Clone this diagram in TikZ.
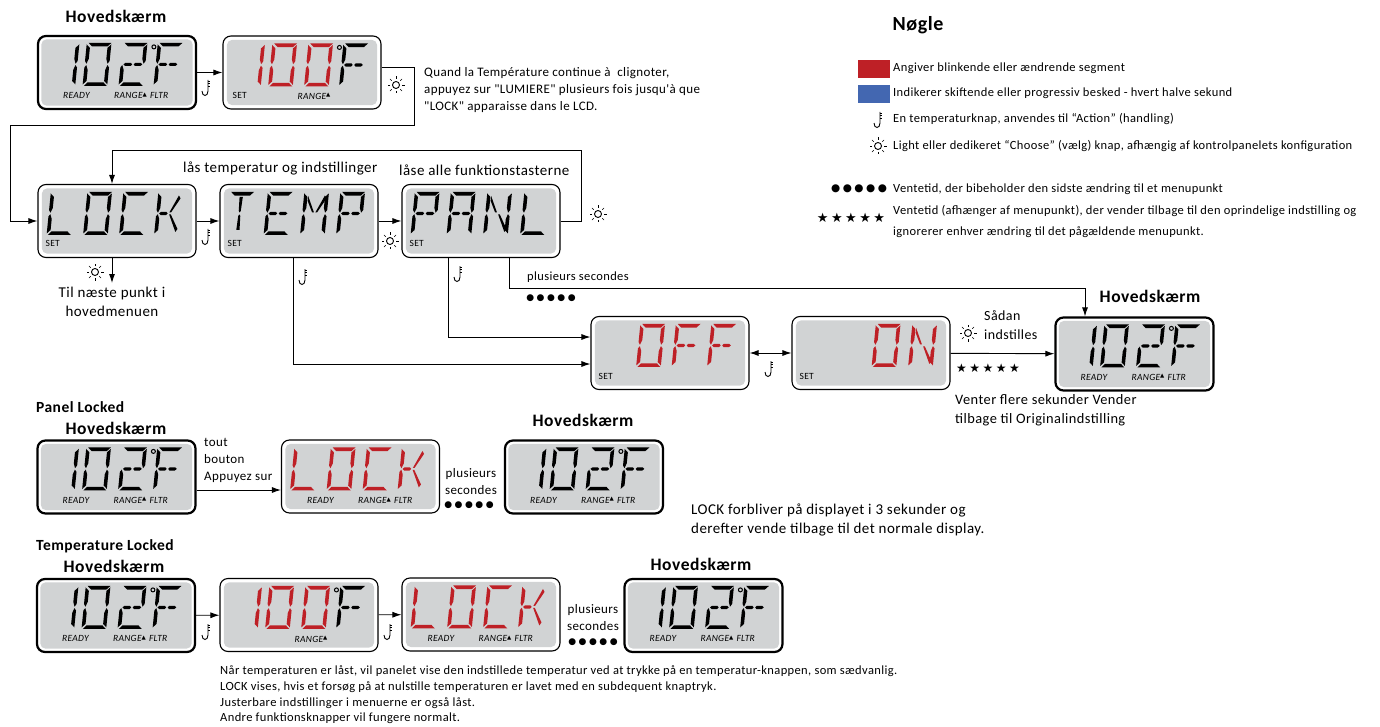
\documentclass[tikz,border=0pt]{standalone}
\usepackage{fontspec}
\setmainfont[LetterSpace=3,Ligatures=TeXOff]{Carlito}
\newfontfamily\symfont{DejaVu Sans}
\usetikzlibrary{arrows.meta}
\definecolor{lcdgray}{RGB}{209,211,212}
\definecolor{lcdred}{RGB}{190,32,38}
\definecolor{keyblue}{RGB}{67,103,177}

% LCD segments, one glyph cell is 27 wide and 43 high
\def\sega{\fill (3,0) -- (27.5,0) -- (23.5,3.6) -- (7,3.6) -- cycle;}
\def\segb{\fill (27.5,1.5) -- (27.5,18) -- (25.5,20.8) -- (23.7,16) -- (23.7,5) -- cycle;}
\def\segc{\fill (27.5,24.5) -- (27.5,41.5) -- (23.7,38) -- (23.7,27) -- (25.5,22.2) -- cycle;}
\def\segd{\fill (2.5,43) -- (27,43) -- (23,39.4) -- (6,39.4) -- cycle;}
\def\sege{\fill (1,24.5) -- (2.8,22.2) -- (4.8,27) -- (4.8,38) -- (1,41.5) -- cycle;}
\def\segf{\fill (1,1.5) -- (4.8,5) -- (4.8,16) -- (2.8,20.8) -- (1,18) -- cycle;}
\def\segg{\fill (4,21.5) -- (6,19.9) -- (11.8,19.9) -- (13.3,21.5) -- (11.8,23.1) -- (6,23.1) -- cycle;}
\def\segh{\fill (15,21.5) -- (16.5,19.9) -- (22.3,19.9) -- (24.3,21.5) -- (22.3,23.1) -- (16.5,23.1) -- cycle;}
\def\segi{\fill (12.5,5) -- (16,5) -- (15.3,19) -- (14.2,20.5) -- (13.1,19) -- cycle;}
\def\segj{\fill (14.2,22.5) -- (15.3,24) -- (16,38) -- (12.5,38) -- (13.1,24) -- cycle;}
\def\segk{\fill (23.5,3.5) -- (25.5,6.5) -- (16.8,20.5) -- (15,20.5) -- cycle;}
\def\segl{\fill (15,22.5) -- (16.8,22.5) -- (25.5,37) -- (23.5,40) -- cycle;}
\def\segm{\fill (5.5,4) -- (13.5,20.5) -- (11.5,20.5) -- (5.5,9) -- cycle;}

\def\chzero{a,b,c,d,e,f}
\def\chone{b,c}
\def\chtwo{a,b,g,h,e,d}
\def\chF{a,f,e,g,h}
\def\chL{f,e,d}
\def\chC{a,f,e,d}
\def\chK{f,e,g,k,l}
\def\chT{a,i,j}
\def\chE{a,f,e,d,g,h}
\def\chM{f,e,b,c,m,k}
\def\chP{a,f,e,b,g,h}
\def\chA{a,f,e,b,c,g,h}
\def\chN{f,e,b,c,m,l}

\newcommand\lcdface[1]{\fill[lcdgray,rounded corners=5pt] ([shift={(4.5,4.5)}]#1.north west) rectangle ([shift={(-4.5,-4.5)}]#1.south east);}
\newcommand\lcdchar[4]{\begin{scope}[shift={(#1.north west)},shift={(#2,8)},xslant=0.1,xscale=0.93,fill=#3]
  \edef\seglist{#4}\foreach \s in \seglist {\csname seg\s\endcsname}
  \end{scope}}
\newcommand\lcdtag[3]{\node[lcdtag] (#1-#2) at ([shift={(#2,61)}]#1.north west) {#3};}
\newcommand\lcdsettag[2]{\node[lcdtag, font=\fontsize{9.5}{10}\selectfont] (#1-set) at ([shift={(#2,60)}]#1.north west) {SET};}
\newcommand\rangemark{RANGE\raisebox{2.5pt}{\symfont\fontsize{5.5}{6}\selectfont ▲}}
\newcommand\lcddeg[1]{\draw[line width=1pt] ([shift={(117,12)}]#1.north west) circle[radius=2pt];}
\newcommand\lcdstatus[1]{\lcdtag{#1}{26}{READY}\lcdtag{#1}{77}{\rangemark}\lcdtag{#1}{113}{FLTR}}
% temperature read-outs
\newcommand\lcdmain[1]{\lcdface{#1}
  \lcdchar{#1}{17}{black}{\chone}\lcdchar{#1}{49}{black}{\chzero}\lcdchar{#1}{85}{black}{\chtwo}\lcdchar{#1}{120}{black}{\chF}
  \lcddeg{#1}\lcdstatus{#1}}
\newcommand\lcdset[1]{\lcdface{#1}
  \lcdchar{#1}{17}{lcdred}{\chone}\lcdchar{#1}{49}{lcdred}{\chzero}\lcdchar{#1}{85}{lcdred}{\chzero}\lcdchar{#1}{120}{black}{\chF}
  \lcddeg{#1}}
\newcommand\lcdword[5]{\lcdchar{#1}{12.5}{#2}{#3}\lcdchar{#1}{49}{#2}{\chzero}\lcdchar{#1}{85}{#2}{#4}\lcdchar{#1}{120}{#2}{#5}}

\newcommand\hugefont{\fontsize{17.5}{20}\selectfont\bfseries}
\newcommand\fivedots{●\kern2.5pt●\kern2.5pt●\kern2.5pt●\kern2.5pt●}
\newcommand\fivestars{★\kern2.5pt★\kern2.5pt★\kern2.5pt★\kern2.5pt★}

\tikzset{
  sunicon/.pic={
    \draw[line width=0.9pt] (0,0) circle[radius=3.5pt];
    \foreach \a in {0,45,...,315} \draw[line width=0.5pt] (\a:6pt) -- (\a:8.5pt);
  },
  hookicon/.pic={
    \draw[line width=0.9pt] (1,-8) -- (1,3) .. controls (1,9) and (-5,9) .. (-5,3);
    \foreach \t in {-7,-4.5,-2} \draw[line width=0.6pt] (1,\t) -- (3,\t);
  }
}

\begin{document}
\begin{tikzpicture}[x=1pt, y=-1pt,
    every node/.style={inner sep=0pt},
    lcdbox/.style={rectangle, rounded corners=8pt, draw=black, fill=white, minimum width=158pt, minimum height=73pt, line width=1.1pt},
    lcdmainbox/.style={lcdbox, line width=2.2pt},
    lcdtag/.style={anchor=west, font=\fontsize{9.5}{11}\selectfont\itshape},
    title/.style={font=\hugefont},
    subtitle/.style={anchor=west, font=\fontsize{15.5}{18}\selectfont\bfseries},
    label/.style={anchor=west, align=left, font=\fontsize{15}{19}\selectfont},
    keylabel/.style={anchor=west, font=\fontsize{12.5}{15}\selectfont},
    bodylabel/.style={anchor=west, align=left, font=\fontsize{12.5}{15.6}\selectfont},
    dotmarks/.style={font=\symfont\fontsize{9}{10}\selectfont},
    starmarks/.style={font=\symfont\fontsize{12}{14}\selectfont},
    arrow/.style={line width=0.9pt, -{Latex[length=9pt,width=6pt]}},
    twoway/.style={line width=0.9pt, {Latex[length=9pt,width=6pt]}-{Latex[length=9pt,width=6pt]}}
]
\useasboundingbox (0,0) rectangle (1380,727);

% Top row
\node[title] (title1) at (116,16) {Hovedskærm};
\node[lcdmainbox] (main1) at (117,72.5) {};
\node[lcdbox] (set1) at (302,72.5) {};
\lcdmain{main1}
\lcdset{set1}\lcdsettag{set1}{10}\lcdtag{set1}{75}{\rangemark}

% Lock menu
\node[lcdbox] (lock1) at (117,221) {};
\node[lcdbox] (temp1) at (299,221) {};
\node[lcdbox] (panl1) at (481,221) {};
\lcdface{lock1}\lcdword{lock1}{black}{\chL}{\chC}{\chK}\lcdsettag{lock1}{8}
\lcdface{temp1}\lcdchar{temp1}{9}{black}{\chT}\lcdchar{temp1}{47.5}{black}{\chE}\lcdchar{temp1}{84}{black}{\chM}\lcdchar{temp1}{120}{black}{\chP}\lcdsettag{temp1}{8}
\lcdface{panl1}\lcdchar{panl1}{12.5}{black}{\chP}\lcdchar{panl1}{48.5}{black}{\chA}\lcdchar{panl1}{85}{black}{\chN}\lcdchar{panl1}{122}{black}{\chL}\lcdsettag{panl1}{8}

% Off, on and back to the main screen
\node[lcdbox] (off1) at (670,353) {};
\node[lcdbox] (on1) at (871,353) {};
\node[lcdmainbox] (main2) at (1134.5,354) {};
\lcdface{off1}\lcdchar{off1}{49}{lcdred}{\chzero}\lcdchar{off1}{84.5}{lcdred}{\chF}\lcdchar{off1}{120}{lcdred}{\chF}\lcdsettag{off1}{8}
\lcdface{on1}\lcdchar{on1}{83.5}{lcdred}{\chzero}\lcdchar{on1}{120}{lcdred}{\chN}\lcdsettag{on1}{8}
\lcdmain{main2}
\node[title] (title2) at (1150,296) {Hovedskærm};

% Panel locked row
\node[subtitle] (panelhead) at (36,407) {Panel Locked};
\node[title] (title3) at (116,428) {Hovedskærm};
\node[title] (title4) at (583,420) {Hovedskærm};
\node[lcdmainbox] (main3) at (116.5,477) {};
\node[lcdbox] (lock2) at (360.5,476.5) {};
\node[lcdmainbox] (main4) at (584,477) {};
\lcdmain{main3}
\lcdface{lock2}\lcdword{lock2}{lcdred}{\chL}{\chC}{\chK}\lcdstatus{lock2}
\lcdmain{main4}

% Temperature locked row
\node[subtitle] (temphead) at (36,546) {Temperature Locked};
\node[title] (title5) at (114,566) {Hovedskærm};
\node[title] (title6) at (701,564) {Hovedskærm};
\node[lcdmainbox] (main5) at (116,615.5) {};
\node[lcdbox] (set2) at (299,615) {};
\node[lcdbox] (lock3) at (481,614.5) {};
\node[lcdmainbox] (main6) at (703.5,615.5) {};
\lcdmain{main5}
\lcdset{set2}\lcdtag{set2}{75}{\rangemark}
\lcdface{lock3}\lcdword{lock3}{lcdred}{\chL}{\chC}{\chK}\lcdstatus{lock3}
\lcdmain{main6}

% Free ends of the connectors
\coordinate (wrapright) at (414,125);
\coordinate (wrapleft) at (10,125);
\coordinate (backright) at (581,150);
\coordinate (backleft) at (112,150);
\coordinate (nextitem) at (112,283);
\coordinate (holdturn) at (509,288);

% Connectors
\draw[arrow] (main1) -- (set1);
\draw[arrow] ([yshift=5pt]set1.east) -| (wrapright) -- (wrapleft) |- (lock1);
\draw[arrow] (lock1) -- (temp1);
\draw[arrow] (temp1) -- (panl1);
\draw[arrow] (panl1.east) -| (backright) -- (backleft) -- (backleft |- lock1.north);
\draw[arrow] (backleft |- lock1.south) -- (nextitem);
\draw[arrow] (temp1.south -| 293,0) |- ([yshift=-11pt]off1.west);
\draw[arrow] (panl1.south -| 448,0) |- ([yshift=16pt]off1.west);
\draw[arrow] (panl1.south -| holdturn) -- (holdturn) -| ([xshift=-49.5pt]main2.north);
\draw[twoway] (off1) -- (on1);
\draw[arrow] (on1) -- (main2);
\draw[arrow] (main3.east |- 0,490) -- (lock2.west |- 0,490);
\draw[arrow] (main5) -- (set2);
\draw[arrow] (set2) -- (lock3);

% Button icons
\pic at (207,88) {hookicon};
\pic at (396,85) {sunicon};
\pic at (207,237) {hookicon};
\pic at (390,241) {sunicon};
\pic at (598,214) {sunicon};
\pic at (95,272) {sunicon};
\pic at (304,277) {hookicon};
\pic at (459,274) {hookicon};
\pic at (770,369) {hookicon};
\pic at (968,333) {sunicon};
\pic at (207,632) {hookicon};
\pic at (389,632) {hookicon};

% Flow labels
\node[bodylabel, font=\fontsize{13}{17}\selectfont] (lockhint) at (424,90) {Quand la Température continue à\ \ clignoter,\\appuyez sur "LUMIERE" plusieurs fois jusqu'à que\\"LOCK" apparaisse dans le LCD.};
\node[label] (templabel) at (183,168) {lås temperatur og indstillinger};
\node[label] (panllabel) at (399,170) {låse alle funktionstasterne};
\node[label, align=center, anchor=center] (nextlabel) at (112,302) {Til næste punkt i\\hovedmenuen};
\node[bodylabel] (holdlabel) at (527,277) {plusieurs secondes};
\node[dotmarks] (holddots) at (551,298) {\fivedots};
\node[label, font=\fontsize{14}{19}\selectfont] (setlabel) at (984,325.5) {Sådan\\indstilles};
\node[starmarks] (setstars) at (988,368) {\fivestars};
\node[label, font=\fontsize{14.4}{19.5}\selectfont] (waitlabel) at (955,410) {Venter flere sekunder Vender\\tilbage til Originalindstilling};
\node[label, font=\fontsize{13}{17}\selectfont] (anykey) at (204,460) {tout\\bouton\\Appuyez sur};
\node[label, align=center, anchor=center, font=\fontsize{13}{17}\selectfont] (waitA) at (471,482) {plusieurs\\secondes};
\node[dotmarks] (dotsA) at (469,505) {\fivedots};
\node[label] (lockstays) at (691,520) {LOCK forbliver på displayet i 3 sekunder og\\derefter vende tilbage til det normale display.};
\node[label, align=center, anchor=center, font=\fontsize{13}{17}\selectfont] (waitB) at (593,618) {plusieurs\\secondes};
\node[dotmarks] (dotsB) at (593,642) {\fivedots};
\node[bodylabel] (notes) at (220,695) {Når temperaturen er låst, vil panelet vise den indstillede temperatur ved at trykke på en temperatur-knappen, som sædvanlig.\\LOCK vises, hvis et forsøg på at nulstille temperaturen er lavet med en subdequent knaptryk.\\Justerbare indstillinger i menuerne er også låst.\\Andre funktionsknapper vil fungere normalt.};

% Key
\node[font=\fontsize{20}{24}\selectfont\bfseries] (keyhead) at (918,25) {Nøgle};
\node[fill=lcdred, minimum width=32pt, minimum height=18pt] (keyred) at (874,69) {};
\node[fill=keyblue, minimum width=32pt, minimum height=18pt] (keyblue) at (874,94) {};
\node[keylabel] (keyA) at (893,68) {Angiver blinkende eller ændrende segment};
\node[keylabel] (keyB) at (893,93) {Indikerer skiftende eller progressiv besked - hvert halve sekund};
\node[keylabel] (keyC) at (893,119) {En temperaturknap, anvendes til “Action” (handling)};
\node[keylabel] (keyD) at (893,146) {Light eller dedikeret “Choose” (vælg) knap, afhængig af kontrolpanelets konfiguration};
\node[keylabel] (keyE) at (893,189) {Ventetid, der bibeholder den sidste ændring til et menupunkt};
\node[keylabel] (keyF) at (893,211) {Ventetid (afhænger af menupunkt), der vender tilbage til den oprindelige indstilling og};
\node[keylabel] (keyG) at (893,232) {ignorerer enhver ændring til det pågældende menupunkt.};
\pic at (879,120) {hookicon};
\pic at (878,146) {sunicon};
\node[dotmarks, font=\symfont\fontsize{10.5}{12}\selectfont] (keydots) at (859,189) {\fivedots};
\node[starmarks, font=\symfont\fontsize{13}{15}\selectfont] (keystars) at (851,218) {\fivestars};

\end{tikzpicture}
\end{document}
